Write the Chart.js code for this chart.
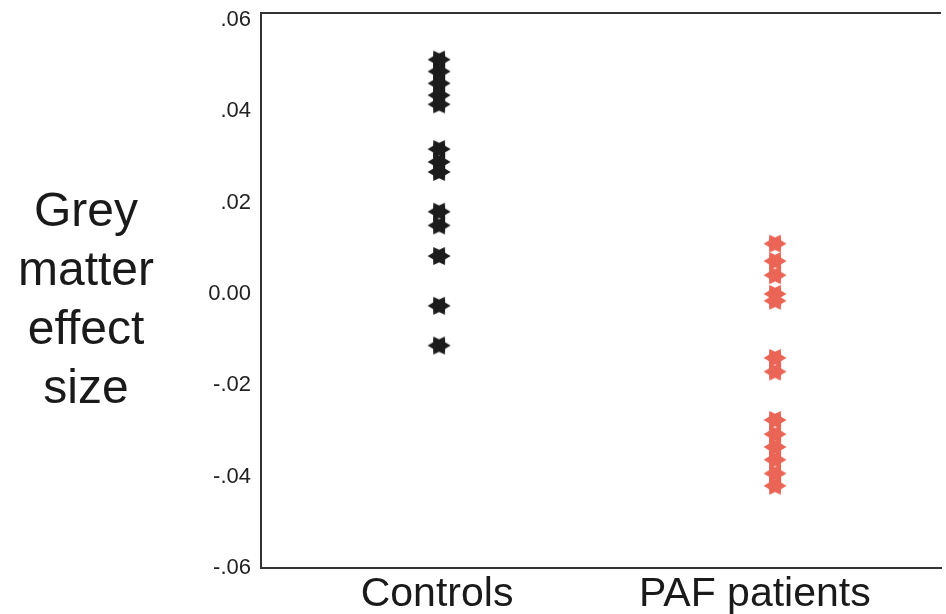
<!DOCTYPE html>
<html>
<head>
<meta charset="utf-8">
<script src="https://cdn.jsdelivr.net/npm/chart.js@4/dist/chart.umd.min.js"></script>
<style>
  html, body { margin: 0; padding: 0; background: #ffffff; }
  #wrap { width: 946px; height: 614px; }
</style>
</head>
<body>
<div id="wrap"><canvas id="grafico"></canvas></div>
<script>
// dados
const grupos = ['Controls', 'PAF patients'];
const controles = [0.0513, 0.0487, 0.0461, 0.0435, 0.0415, 0.0317, 0.0289, 0.0267, 0.018, 0.015, 0.0083, -0.0026, -0.0113];
const pacientes = [0.011, 0.0072, 0.0041, 0.0, -0.0015, -0.014, -0.017, -0.0276, -0.0307, -0.0335, -0.0363, -0.0393, -0.042];
const ticksY = [-0.06, -0.04, -0.02, 0, 0.02, 0.04, 0.06];
const rotulosY = ['-.06', '-.04', '-.02', '0.00', '.02', '.04', '.06'];
const tituloY = ['Grey', 'matter', 'effect', 'size'];

function criarEstrela(cor) {
  const c = document.createElement('canvas');
  c.width = 24; c.height = 22;
  const g = c.getContext('2d');
  g.fillStyle = cor;
  g.beginPath();
  for (let i = 0; i < 12; i++) {
    const ang = i * Math.PI / 6;
    const r = i % 2 === 0 ? 11.5 : 7;
    const x = 12 + r * Math.cos(ang);
    const y = 11 + r * Math.sin(ang) * 0.9;
    if (i === 0) g.moveTo(x, y); else g.lineTo(x, y);
  }
  g.closePath();
  g.fill();
  return c;
}

const estrelaPreta = criarEstrela('#1c1c1c');
const estrelaVermelha = criarEstrela('#ea6556');

const moldura = {
  id: 'moldura',
  afterDraw(chart) {
    const a = chart.chartArea;
    const g = chart.ctx;
    g.save();
    g.strokeStyle = '#333333';
    g.lineWidth = 2;
    g.beginPath();
    g.moveTo(a.left, a.top);
    g.lineTo(a.right, a.top);
    g.stroke();
    g.fillStyle = '#1a1a1a';
    g.font = '48px "Liberation Sans", Arial, sans-serif';
    g.textAlign = 'center';
    g.textBaseline = 'alphabetic';
    tituloY.forEach((t, i) => g.fillText(t, 86, 226 + i * 59));
    g.restore();
  }
};

new Chart(document.getElementById('grafico'), {
  type: 'scatter',
  data: {
    datasets: [
      {
        label: grupos[0],
        data: controles.map(v => ({ x: 1, y: v })),
        pointStyle: estrelaPreta
      },
      {
        label: grupos[1],
        data: pacientes.map(v => ({ x: 2, y: v })),
        pointStyle: estrelaVermelha
      }
    ]
  },
  plugins: [moldura],
  options: {
    responsive: true,
    maintainAspectRatio: false,
    animation: false,
    layout: { padding: { top: 13, right: 0, left: 0, bottom: 0 } },
    plugins: {
      legend: { display: false },
      tooltip: { enabled: false }
    },
    scales: {
      x: {
        type: 'linear',
        min: 0.47,
        max: 2.494,
        grid: { display: false },
        border: { display: true, color: '#333333', width: 2 },
        afterBuildTicks: s => { s.ticks = [{ value: 0.994 }, { value: 1.94 }]; },
        afterFit: s => { s.height = 46; s.paddingLeft = 0; s.paddingRight = 0; },
        ticks: {
          color: '#1a1a1a',
          padding: -2,
          maxRotation: 0,
          font: { size: 41, lineHeight: 1, family: '"Liberation Sans", Arial, sans-serif' },
          callback: (v, i) => grupos[i]
        }
      },
      y: {
        min: -0.06,
        max: 0.0615,
        grid: { display: false },
        border: { display: true, color: '#333333', width: 2 },
        afterBuildTicks: s => { s.ticks = ticksY.map(v => ({ value: v })); },
        afterFit: s => { s.width = 261; s.paddingTop = 0; s.paddingBottom = 0; },
        ticks: {
          color: '#222222',
          padding: 2,
          font: { size: 22, family: '"Liberation Sans", Arial, sans-serif' },
          callback: (v, i) => rotulosY[i]
        }
      }
    }
  }
});
</script>
</body>
</html>
